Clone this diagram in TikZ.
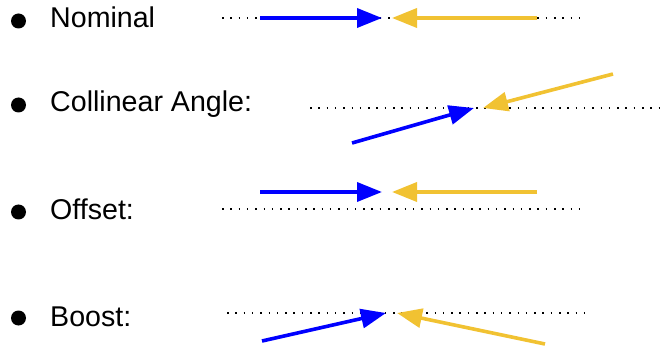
\documentclass[tikz,border=0pt]{standalone}
\usepackage{fontspec}
\setmainfont{Liberation Sans}
\usetikzlibrary{arrows.meta}
\definecolor{gold}{HTML}{F1C232}

\begin{document}
\begin{tikzpicture}[x=1pt, y=-1pt, >={Triangle[length=25pt,width=19pt]},
  every node/.style={font=\fontsize{28.6}{32}\selectfont, inner sep=0pt, anchor=base west},
  bullet/.style={circle, fill=black, minimum size=15pt, anchor=center},
  guide/.style={line width=1.5pt, dash pattern=on 1.5pt off 6.8pt},
  beam/.style={->, line width=3.6pt}]
  \useasboundingbox (0,0) rectangle (663,347);

  % bullets and labels
  \node[bullet] (b1) at (18.5,21) {};
  \node (nominal) at (50,28) {Nominal};
  \node[bullet] (b2) at (18.5,105) {};
  \node (collinear) at (50,112) {Collinear Angle:};
  \node[bullet] (b3) at (18.5,212) {};
  \node (offset) at (50,220) {Offset:};
  \node[bullet] (b4) at (18.5,318) {};
  \node (boost) at (50,326) {Boost:};

  % nominal
  \coordinate (nom-l) at (222,18);  \coordinate (nom-r) at (580,18);
  \coordinate (nom-b0) at (260,18); \coordinate (nom-b1) at (382,18);
  \coordinate (nom-y0) at (537,18); \coordinate (nom-y1) at (392,18);
  \draw[guide] (nom-l) -- (nom-r);
  \draw[beam, blue] (nom-b0) -- (nom-b1);
  \draw[beam, gold] (nom-y0) -- (nom-y1);

  % collinear angle
  \coordinate (col-l) at (310,108); \coordinate (col-r) at (660,108);
  \coordinate (col-b0) at (352,143); \coordinate (col-b1) at (474,108);
  \coordinate (col-y0) at (613,74);  \coordinate (col-y1) at (483,108);
  \draw[guide] (col-l) -- (col-r);
  \draw[beam, blue] (col-b0) -- (col-b1);
  \draw[beam, gold] (col-y0) -- (col-y1);

  % offset
  \coordinate (off-l) at (222,209); \coordinate (off-r) at (580,209);
  \coordinate (off-b0) at (260,192); \coordinate (off-b1) at (382,192);
  \coordinate (off-y0) at (537,192); \coordinate (off-y1) at (392,192);
  \draw[guide] (off-l) -- (off-r);
  \draw[beam, blue] (off-b0) -- (off-b1);
  \draw[beam, gold] (off-y0) -- (off-y1);

  % boost
  \coordinate (bst-l) at (227,313); \coordinate (bst-r) at (585,313);
  \coordinate (bst-b0) at (262,341); \coordinate (bst-b1) at (386,313);
  \coordinate (bst-y0) at (545,344); \coordinate (bst-y1) at (397,313);
  \draw[guide] (bst-l) -- (bst-r);
  \draw[beam, blue] (bst-b0) -- (bst-b1);
  \draw[beam, gold] (bst-y0) -- (bst-y1);
\end{tikzpicture}
\end{document}
